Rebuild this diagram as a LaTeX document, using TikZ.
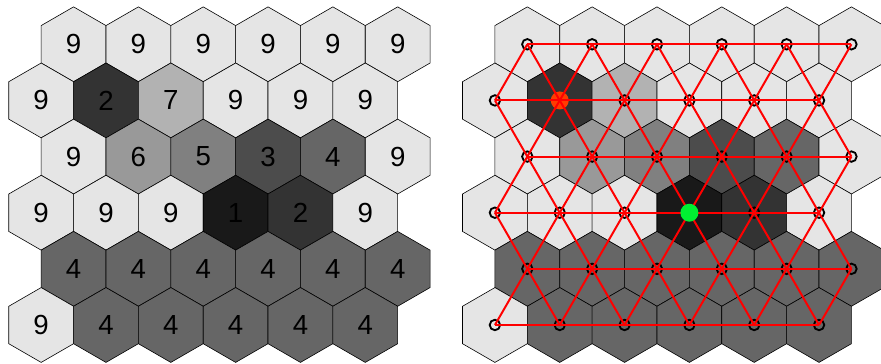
\documentclass[tikz,border=0pt]{standalone}
\usepackage{fontspec}
\setmainfont{Liberation Sans}
\definecolor{startred}{RGB}{255,60,0}
\definecolor{goalgreen}{RGB}{0,240,50}

\begin{document}
\begin{tikzpicture}[
  hexcell/.style={draw=black,line width=0.45pt},
  cost/.style={inner sep=0pt,font=\fontsize{21}{24}\selectfont},
  link/.style={red,line width=1.5pt},
  vertex/.style={draw=black,line width=1.4pt}]
\useasboundingbox (0,0) rectangle (23.54,-9.70);
% both grids: left with costs, right with the lattice
\foreach \row/\vals in {0/{9,9,9,9,9,9},1/{9,2,7,9,9,9},2/{9,6,5,3,4,9},
                        3/{9,9,9,1,2,9},4/{4,4,4,4,4,4},5/{9,4,4,4,4,4}}{
  \foreach \v [count=\k from 0] in \vals {
    \pgfmathsetmacro{\cx}{1.966+1.732*\k-0.866*mod(\row,2)}
    \pgfmathsetmacro{\cy}{-1.1835-1.5*\row}
    \pgfmathtruncatemacro{\lev}{10*\v}
    \draw[hexcell,fill=white!\lev!black] (\cx,\cy) +(90:1) -- +(150:1) -- +(210:1)
      -- +(270:1) -- +(330:1) -- +(30:1) -- cycle;
    \node[cost] (n-\row-\k) at (\cx,\cy) {\v};
    \draw[hexcell,fill=white!\lev!black] (\cx+12.124,\cy) +(90:1) -- +(150:1) -- +(210:1)
      -- +(270:1) -- +(330:1) -- +(30:1) -- cycle;
    \coordinate (p-\row-\k) at (\cx+12.124,\cy);
  }
}
\foreach \r in {0,...,5}{
  \foreach \k in {0,...,5}{
    \draw[vertex] (p-\r-\k) circle (0.14);
  }
}
% start cell, under the links
\fill[startred] (p-1-1) circle (0.24);
% links in a row
\foreach \r in {0,...,5}{
  \foreach \k in {0,...,4}{
    \pgfmathtruncatemacro{\kk}{\k+1}
    \draw[link] (p-\r-\k) -- (p-\r-\kk);
  }
}
% links between rows
\foreach \r in {0,...,4}{
  \pgfmathtruncatemacro{\rr}{\r+1}
  \foreach \k in {0,...,5}{
    \draw[link] (p-\r-\k) -- (p-\rr-\k);
  }
  \foreach \k in {0,...,4}{
    \pgfmathtruncatemacro{\kk}{\k+1}
    \ifodd\r
      \draw[link] (p-\r-\kk) -- (p-\rr-\k);
    \else
      \draw[link] (p-\r-\k) -- (p-\rr-\kk);
    \fi
  }
}
% goal cell
\fill[goalgreen] (p-3-3) circle (0.24);
\end{tikzpicture}
\end{document}
